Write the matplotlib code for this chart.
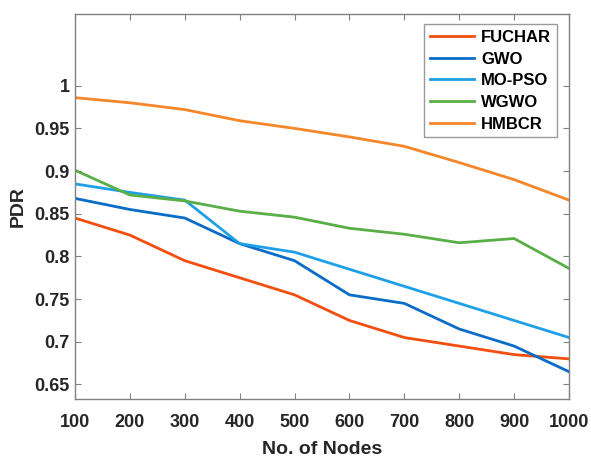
import matplotlib
matplotlib.use("Agg")
import matplotlib.pyplot as plt

# data
nodes = [100, 200, 300, 400, 500, 600, 700, 800, 900, 1000]
fuchar = [0.845, 0.825, 0.795, 0.775, 0.755, 0.725, 0.705, 0.695, 0.685, 0.680]
gwo = [0.868, 0.855, 0.845, 0.815, 0.795, 0.755, 0.745, 0.715, 0.695, 0.665]
mopso = [0.885, 0.875, 0.866, 0.815, 0.805, 0.785, 0.765, 0.745, 0.725, 0.705]
wgwo = [0.901, 0.872, 0.865, 0.853, 0.846, 0.833, 0.826, 0.816, 0.821, 0.786]
hmbcr = [0.986, 0.980, 0.972, 0.959, 0.950, 0.940, 0.929, 0.910, 0.890, 0.866]

names = ["FUCHAR", "GWO", "MO-PSO", "WGWO", "HMBCR"]
colors = ["#F24E0F", "#0A6CC7", "#1FA0E6", "#5AAE47", "#F5862A"]

yticks = [0.65, 0.7, 0.75, 0.8, 0.85, 0.9, 0.95, 1]
ytick_labels = ["0.65", "0.7", "0.75", "0.8", "0.85", "0.9", "0.95", "1"]

plt.rcParams['font.family'] = ['Liberation Sans', 'DejaVu Sans']
plt.rcParams['font.weight'] = 'bold'

fig = plt.figure(figsize=(5.91, 4.57), dpi=100)
ax = fig.add_axes([75 / 591, 1 - 399 / 457, (569 - 75) / 591, (399 - 14) / 457])

for series, name, c in zip([fuchar, gwo, mopso, wgwo, hmbcr], names, colors):
    ax.plot(nodes, series, color=c, linewidth=2, label=name)

ax.set_xlim(100, 1000)
ax.set_ylim(0.633, 1.084)
ax.set_xticks(nodes)
ax.set_yticks(yticks)
ax.set_yticklabels(ytick_labels)

ax.tick_params(direction='in', top=True, right=True, length=4, width=0.8,
               color='#808080', labelsize=13, labelcolor='#262626')
ax.tick_params(axis='x', pad=11)
ax.tick_params(axis='y', pad=4)
for lab in ax.get_xticklabels() + ax.get_yticklabels():
    lab.set_fontweight('bold')
for s in ax.spines.values():
    s.set_color('#808080')
    s.set_linewidth(1)

ax.set_xlabel("No. of Nodes", fontsize=14, fontweight='bold', color='#262626', labelpad=7)
ax.set_ylabel("PDR", fontsize=14, fontweight='bold', color='#262626', labelpad=5)

leg = ax.legend(loc='upper right', bbox_to_anchor=(0.9757, 0.974), fontsize=12,
                frameon=True, fancybox=False, edgecolor='#808080', handlelength=2.6,
                borderpad=0.35, labelspacing=0.4, handletextpad=0.45, borderaxespad=0)
leg.get_frame().set_linewidth(1)
for t in leg.get_texts():
    t.set_fontweight('bold')

fig.savefig("out.png", dpi=100)
